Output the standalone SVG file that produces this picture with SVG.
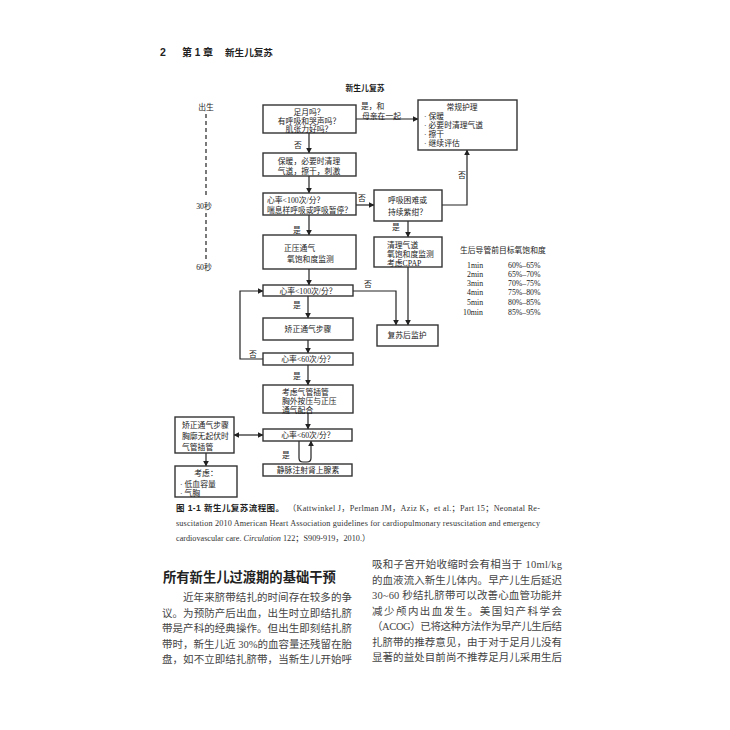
<svg xmlns="http://www.w3.org/2000/svg" width="730" height="730" viewBox="0 0 730 730">
<defs>
<style>
.bx{fill:#fff;stroke:#333;stroke-width:1.4}
.t{font-family:"Liberation Serif","Noto Sans CJK SC",serif;font-size:7.8px;fill:#1a1a1a}
.tc{text-anchor:middle}
.ln{fill:none;stroke:#222;stroke-width:1.2}
.hd{font-family:"Liberation Sans","Noto Sans CJK SC",sans-serif;font-weight:bold;fill:#222}
.cap{font-family:"Liberation Serif","Noto Sans CJK SC",serif;font-size:8.2px;fill:#333}
.body{font-family:"Liberation Serif","Noto Sans CJK SC",serif;font-size:10.5px;fill:#444}
</style>
<marker id="ah" viewBox="0 0 10 10" refX="9" refY="5" markerWidth="6" markerHeight="6" orient="auto-start-reverse" markerUnits="userSpaceOnUse">
<path d="M0,0 L10,5 L0,10 Z" fill="#222"/>
</marker>
</defs>
<rect width="730" height="730" fill="#fff"/>

<g id="header">
<text class="hd" x="160" y="56" font-size="10.5">2</text>
<text class="hd" x="182" y="56" font-size="10">第 1 章</text>
<text class="hd" x="225" y="56" font-size="9.6">新生儿复苏</text>
</g>
<text class="t tc" x="365" y="91" font-weight="bold">新生儿复苏</text>

<g id="timeline">
<text class="t tc" x="206" y="110">出生</text>
<line x1="206" y1="114" x2="206" y2="198" stroke="#333" stroke-width="1.3" stroke-dasharray="4,3"/>
<text class="t tc" x="204" y="209">30秒</text>
<line x1="206" y1="213" x2="206" y2="259" stroke="#333" stroke-width="1.3" stroke-dasharray="4,3"/>
<text class="t tc" x="204" y="270">60秒</text>
</g>

<g id="connectors">
<path class="ln" d="M356,119 H418" marker-end="url(#ah)"/>
<path class="ln" d="M309,133 V153" marker-end="url(#ah)"/>
<path class="ln" d="M309,176 V193" marker-end="url(#ah)"/>
<path class="ln" d="M356,205 H374" marker-end="url(#ah)"/>
<path class="ln" d="M442,205 H467 V150" marker-end="url(#ah)"/>
<path class="ln" d="M408,221 V237" marker-end="url(#ah)"/>
<path class="ln" d="M309,215 V235" marker-end="url(#ah)"/>
<path class="ln" d="M309,269 V285" marker-end="url(#ah)"/>
<path class="ln" d="M408,267 V325" marker-end="url(#ah)"/>
<path class="ln" d="M353,291 H396 V325" marker-end="url(#ah)"/>
<path class="ln" d="M308,296 V318" marker-end="url(#ah)"/>
<path class="ln" d="M308,340 V353" marker-end="url(#ah)"/>
<path class="ln" d="M263,359 H240 V291 H263" marker-end="url(#ah)"/>
<path class="ln" d="M308,365 V385" marker-end="url(#ah)"/>
<path class="ln" d="M308,413 V429" marker-end="url(#ah)"/>
<path class="ln" d="M299,441 V458 Q299,462 303,462 H307 Q311,462 311,458 V441" marker-end="url(#ah)"/>
<path class="ln" d="M234,435 H263" marker-start="url(#ah)" marker-end="url(#ah)"/>
<path class="ln" d="M206,453 V466" marker-end="url(#ah)"/>
<text class="t" x="361" y="109">是，和</text>
<text class="t" x="362" y="119">母亲在一起</text>
<text class="t" x="294" y="148">否</text>
<text class="t" x="358" y="201">否</text>
<text class="t" x="458" y="178">否</text>
<text class="t" x="392" y="230">是</text>
<text class="t" x="293" y="233">是</text>
<text class="t" x="364" y="287">否</text>
<text class="t" x="293" y="308">是</text>
<text class="t" x="249" y="357">否</text>
<text class="t" x="293" y="379">是</text>
<text class="t" x="282" y="458">是</text>
</g>

<g id="n1">
<rect class="bx" x="263" y="105" width="93" height="28"/>
<text class="t tc" x="309" y="115">足月吗？</text>
<text class="t tc" x="309" y="123.5">有呼吸和哭声吗？</text>
<text class="t tc" x="309" y="131.5">肌张力好吗？</text>
</g>
<g id="n_routine">
<rect class="bx" x="418" y="100" width="99" height="50"/>
<text class="t tc" x="462" y="110">常规护理</text>
<text class="t" x="424" y="118.5">· 保暖</text>
<text class="t" x="424" y="127.5">· 必要时清理气道</text>
<text class="t" x="424" y="136.5">· 擦干</text>
<text class="t" x="424" y="145.5">· 继续评估</text>
</g>
<g id="n2">
<rect class="bx" x="263" y="153" width="93" height="23"/>
<text class="t tc" x="309" y="164">保暖，必要时清理</text>
<text class="t tc" x="309" y="174">气道，擦干，刺激</text>
</g>
<g id="n3">
<rect class="bx" x="263" y="193" width="93" height="22"/>
<text class="t" x="267" y="203">心率&lt;100次/分？</text>
<text class="t" x="267" y="213" textLength="85" lengthAdjust="spacingAndGlyphs">喘息样呼吸或呼吸暂停？</text>
</g>
<g id="n4">
<rect class="bx" x="374" y="190" width="68" height="31"/>
<text class="t" x="388" y="203">呼吸困难或</text>
<text class="t" x="388" y="215">持续紫绀？</text>
</g>
<g id="n5">
<rect class="bx" x="374" y="237" width="68" height="30"/>
<text class="t" x="387" y="247.5">清理气道</text>
<text class="t" x="387" y="257">氧饱和度监测</text>
<text class="t" x="387" y="266">考虑CPAP</text>
</g>
<g id="n6">
<rect class="bx" x="263" y="235" width="93" height="34"/>
<text class="t" x="284" y="251">正压通气</text>
<text class="t" x="287" y="262">氧饱和度监测</text>
</g>
<g id="n7">
<rect class="bx" x="263" y="285" width="90" height="11"/>
<text class="t tc" x="308" y="293.5">心率&lt;100次/分？</text>
</g>
<g id="n8">
<rect class="bx" x="263" y="318" width="90" height="22"/>
<text class="t tc" x="308" y="332">矫正通气步骤</text>
</g>
<g id="n9">
<rect class="bx" x="263" y="353" width="90" height="12"/>
<text class="t tc" x="308" y="362">心率&lt;60次/分？</text>
</g>
<g id="n_post">
<rect class="bx" x="377" y="325" width="61" height="21"/>
<text class="t tc" x="407" y="338">复苏后监护</text>
</g>
<g id="n10">
<rect class="bx" x="263" y="385" width="90" height="28"/>
<text class="t" x="282" y="395">考虑气管插管</text>
<text class="t" x="282" y="404">胸外按压与正压</text>
<text class="t" x="282" y="412.5">通气配合</text>
</g>
<g id="n11">
<rect class="bx" x="263" y="429" width="89" height="12"/>
<text class="t tc" x="308" y="438">心率&lt;60次/分？</text>
</g>
<g id="n12">
<rect class="bx" x="263" y="464" width="89" height="12"/>
<text class="t tc" x="308" y="473">静脉注射肾上腺素</text>
</g>
<g id="n13">
<rect class="bx" x="175" y="417" width="59" height="36"/>
<text class="t" x="182" y="428">矫正通气步骤</text>
<text class="t" x="182" y="439">胸廓无起伏时</text>
<text class="t" x="182" y="450">气管插管</text>
</g>
<g id="n14">
<rect class="bx" x="175" y="466" width="62" height="31"/>
<text class="t tc" x="206" y="476">考虑：</text>
<text class="t" x="180" y="487">· 低血容量</text>
<text class="t" x="180" y="496">· 气胸</text>
</g>

<g id="table">
<text class="t" x="460" y="253">生后导管前目标氧饱和度</text>
<g class="t">
<text x="467" y="268">1min</text><text x="508" y="268">60%–65%</text>
<text x="467" y="277">2min</text><text x="508" y="277">65%–70%</text>
<text x="467" y="286">3min</text><text x="508" y="286">70%–75%</text>
<text x="467" y="295">4min</text><text x="508" y="295">75%–80%</text>
<text x="467" y="305">5min</text><text x="508" y="305">80%–85%</text>
<text x="463" y="315">10min</text><text x="508" y="315">85%–95%</text>
</g>
</g>

<g id="caption">
<text class="hd" x="176" y="511" font-size="8.5" textLength="108" lengthAdjust="spacing">图 1-1  新生儿复苏流程图。</text>
<text class="cap" x="288" y="511" textLength="252" lengthAdjust="spacing">（Kattwinkel J，Perlman JM，Aziz K，et al.；Part 15；Neonatal Re-</text>
<text class="cap" x="176" y="526" textLength="364" lengthAdjust="spacing">suscitation 2010 American Heart Association guidelines for cardiopulmonary resuscitation and emergency</text>
<text class="cap" x="176" y="541">cardiovascular care. <tspan font-style="italic">Circulation</tspan> 122；S909-919，2010.）</text>
</g>

<g id="body">
<text class="hd" x="163" y="582" font-size="13.3" fill="#222">所有新生儿过渡期的基础干预</text>
<text class="body" x="183" y="601" textLength="169" lengthAdjust="spacing">近年来脐带结扎的时间存在较多的争</text>
<text class="body" x="162" y="616.5" textLength="190" lengthAdjust="spacing">议。为预防产后出血，出生时立即结扎脐</text>
<text class="body" x="162" y="632" textLength="190" lengthAdjust="spacing">带是产科的经典操作。但出生即刻结扎脐</text>
<text class="body" x="162" y="647.5" textLength="190" lengthAdjust="spacing">带时，新生儿近 30%的血容量还残留在胎</text>
<text class="body" x="162" y="663" textLength="190" lengthAdjust="spacing">盘，如不立即结扎脐带，当新生儿开始呼</text>
<text class="body" x="372" y="568" textLength="190" lengthAdjust="spacing">吸和子宫开始收缩时会有相当于 10ml/kg</text>
<text class="body" x="372" y="583.5" textLength="190" lengthAdjust="spacing">的血液流入新生儿体内。早产儿生后延迟</text>
<text class="body" x="372" y="599" textLength="190" lengthAdjust="spacing">30~60 秒结扎脐带可以改善心血管功能并</text>
<text class="body" x="372" y="614.5" textLength="190" lengthAdjust="spacing">减少颅内出血发生。美国妇产科学会</text>
<text class="body" x="372" y="630" textLength="190" lengthAdjust="spacing">（ACOG）已将这种方法作为早产儿生后结</text>
<text class="body" x="372" y="645.5" textLength="190" lengthAdjust="spacing">扎脐带的推荐意见，由于对于足月儿没有</text>
<text class="body" x="372" y="661" textLength="190" lengthAdjust="spacing">显著的益处目前尚不推荐足月儿采用生后</text>
</g>
</svg>
